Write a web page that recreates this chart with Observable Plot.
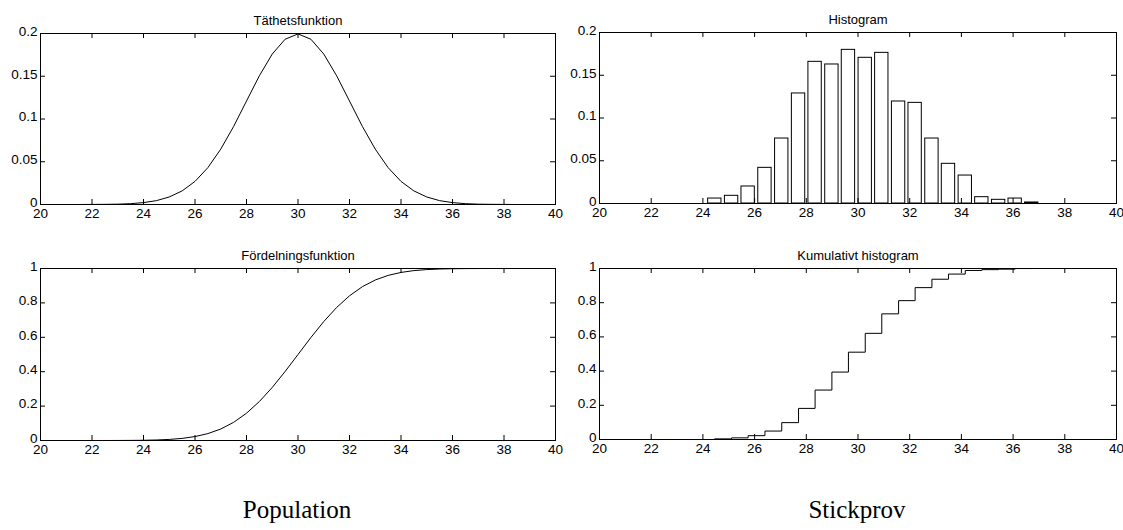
<!DOCTYPE html>
<html>
<head>
<meta charset="utf-8">
<script src="https://cdn.jsdelivr.net/npm/d3@7"></script>
<script src="https://cdn.jsdelivr.net/npm/@observablehq/plot@0.6"></script>
<style>
  html, body { margin: 0; padding: 0; background: #fff; }
  #wrap { position: relative; width: 1123px; height: 530px; overflow: hidden; }
  #wrap > svg { position: absolute; }
  .cap { position: absolute; font-family: "Liberation Serif", "DejaVu Serif", serif; font-size: 25px; color: #000; transform: translateX(-50%); white-space: nowrap; }
</style>
</head>
<body>
<div id="wrap"></div>
<script>
// ---- data ----
const xGrid = [20,20.5,21,21.5,22,22.5,23,23.5,24,24.5,25,25.5,26,26.5,27,27.5,28,28.5,29,29.5,30,
               30.5,31,31.5,32,32.5,33,33.5,34,34.5,35,35.5,36,36.5,37,37.5,38,38.5,39,39.5,40];
const densityValues = [0,0,0,0,0.0001,0.0002,0.0004,0.0010,0.0022,0.0045,0.0088,0.0159,0.0270,0.0431,0.0648,0.0913,0.1210,0.1506,0.1760,0.1933,0.1995,
                       0.1933,0.1760,0.1506,0.1210,0.0913,0.0648,0.0431,0.0270,0.0159,0.0088,0.0045,0.0022,0.0010,0.0004,0.0002,0.0001,0,0,0,0];
const cdfValues = [0,0,0,0,0.00003,0.00009,0.00023,0.00058,0.00135,0.0030,0.0062,0.0122,0.0228,0.0401,0.0668,0.1056,0.1587,0.2266,0.3085,0.4013,0.5,
                   0.5987,0.6915,0.7734,0.8413,0.8944,0.9332,0.9599,0.9772,0.9878,0.9938,0.9970,0.99865,0.99942,0.99977,0.99991,0.99997,1,1,1,1];
const histCenters = [24.46,25.11,25.75,26.40,27.05,27.70,28.34,28.99,29.63,30.28,30.92,31.57,32.21,32.86,33.50,34.15,34.79,35.44,36.08,36.72];
const histHeights = [0.0058,0.0090,0.0199,0.0417,0.0760,0.1287,0.1657,0.1626,0.1797,0.1704,0.1762,0.1193,0.1177,0.0760,0.0464,0.0327,0.0074,0.0043,0.0058,0.0012];
const cumValues   = [0.0037,0.0096,0.0224,0.0494,0.0986,0.1819,0.2891,0.3943,0.5106,0.6208,0.7348,0.8120,0.8881,0.9373,0.9673,0.9885,0.9933,0.9961,0.9998,1.0];
const xTicks = [20,22,24,26,28,30,32,34,36,38,40];
const yTicksDensity = [0,0.05,0.1,0.15,0.2];
const yTicksCdf = [0,0.2,0.4,0.6,0.8,1];
const titles = ["Täthetsfunktion","Histogram","Fördelningsfunktion","Kumulativt histogram"];
const captions = ["Population","Stickprov"];

const densityData = xGrid.map((x,i)=>({x, y: densityValues[i]}));
const cdfData = xGrid.map((x,i)=>({x, y: cdfValues[i]}));
const histData = histCenters.map((c,i)=>({c, h: histHeights[i]}));
const cumData = histCenters.map((c,i)=>({c, v: cumValues[i]}));
const binStep = (histCenters[histCenters.length-1]-histCenters[0])/(histCenters.length-1);
const barW = binStep*0.8;

const FONT = "Liberation Sans, Arial, Helvetica, sans-serif";
const wrap = document.getElementById("wrap");

function panel({left, top, width, height, m, yDomain, yTicks, title, marks}) {
  const fh = height - m.top - m.bottom;
  const fw = width - m.left - m.right;
  const tl = 5;
  const p = Plot.plot({
    width, height,
    marginLeft: m.left, marginRight: m.right, marginTop: m.top, marginBottom: m.bottom,
    style: {fontFamily: FONT, fontSize: "13.5px", color: "#000", background: "transparent", overflow: "visible"},
    x: {domain: [20, 40], label: null},
    y: {domain: yDomain, label: null},
    marks: [
      ...marks,
      Plot.frame({stroke: "#000", strokeWidth: 1}),
      // inward ticks on all four sides
      Plot.tickX(xTicks, {x: d=>d, insetTop: fh - tl, stroke: "#000"}),
      Plot.tickX(xTicks, {x: d=>d, insetBottom: fh - tl, stroke: "#000"}),
      Plot.tickY(yTicks, {y: d=>d, insetRight: fw - tl, stroke: "#000"}),
      Plot.tickY(yTicks, {y: d=>d, insetLeft: fw - tl, stroke: "#000"}),
      Plot.axisX({ticks: xTicks, tickSize: 0, tickPadding: 4, tickFormat: d=>`${d}`, fill: "#000", label: null}),
      Plot.axisY({ticks: yTicks, tickSize: 0, tickPadding: 3, tickFormat: d=>`${d}`, fill: "#000", label: null, dy: -2}),
      Plot.text([title], {frameAnchor: "top", lineAnchor: "bottom", dy: -9, fill: "#000", fontSize: 13})
    ]
  });
  p.style.left = left + "px";
  p.style.top = top + "px";
  wrap.appendChild(p);
}

panel({left: 0, top: 0, width: 560, height: 230, m: {left: 40, right: 5, top: 33, bottom: 26},
  yDomain: [0, 0.2], yTicks: yTicksDensity, title: titles[0],
  marks: [Plot.line(densityData, {x: "x", y: "y", stroke: "#000", strokeWidth: 1})]});

panel({left: 560, top: 0, width: 563, height: 230, m: {left: 39, right: 7, top: 32, bottom: 27},
  yDomain: [0, 0.2], yTicks: yTicksDensity, title: titles[1],
  marks: [Plot.rectY(histData, {x1: d=>d.c - barW/2, x2: d=>d.c + barW/2, y1: 0, y2: "h", fill: "#fff", stroke: "#000", strokeWidth: 1})]});

panel({left: 0, top: 235, width: 560, height: 230, m: {left: 40, right: 5, top: 33, bottom: 25},
  yDomain: [0, 1], yTicks: yTicksCdf, title: titles[2],
  marks: [Plot.line(cdfData, {x: "x", y: "y", stroke: "#000", strokeWidth: 1})]});

panel({left: 560, top: 235, width: 563, height: 230, m: {left: 39, right: 7, top: 33, bottom: 26},
  yDomain: [0, 1], yTicks: yTicksCdf, title: titles[3],
  marks: [Plot.line(cumData, {x: "c", y: "v", curve: "step-after", stroke: "#000", strokeWidth: 1})]});

[[297, captions[0]], [857, captions[1]]].forEach(([cx, t]) => {
  const d = document.createElement("div");
  d.className = "cap";
  d.textContent = t;
  d.style.left = cx + "px";
  d.style.top = "496px";
  wrap.appendChild(d);
});
</script>
</body>
</html>
